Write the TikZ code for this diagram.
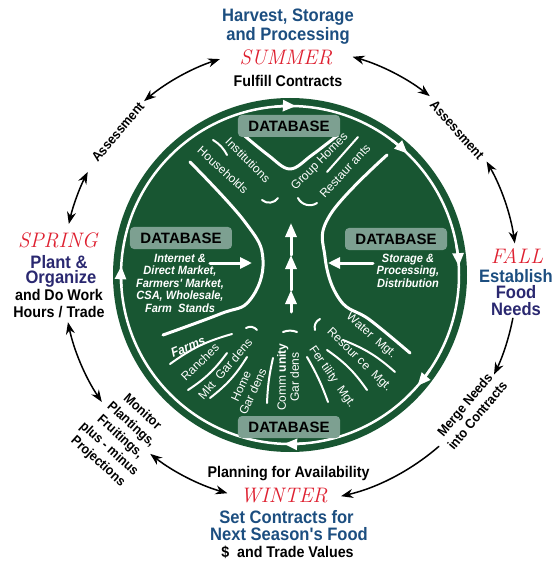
\documentclass[tikz,border=0pt]{standalone}
\usepackage{fontspec}
\newfontfamily\condfont[FakeStretch=0.92]{Liberation Sans}
\newfontfamily\labelfont{Liberation Sans}
\usetikzlibrary{arrows.meta}
\definecolor{wheelgreen}{RGB}{24,86,50}
\definecolor{dbfill}{RGB}{125,160,145}
\definecolor{seasonred}{RGB}{222,32,48}
\definecolor{headblue}{RGB}{28,78,128}
\definecolor{headnavy}{RGB}{42,40,112}
\begin{document}
\begin{tikzpicture}[x=1pt,y=1pt,line cap=round,line join=round,>={Stealth[length=12pt,width=9pt]}]
\tikzset{
  bigline/.style={font=\condfont\bfseries\fontsize{18}{18}\selectfont,inner sep=0pt,anchor=base},
  smallline/.style={font=\condfont\bfseries\fontsize{15.5}{16}\selectfont,inner sep=0pt,anchor=base},
  seasonname/.style={font=\rmfamily\itshape\fontsize{21}{21}\selectfont,text=seasonred,inner sep=0pt,anchor=base},
  arclabel/.style={font=\condfont\bfseries\fontsize{13.5}{16.5}\selectfont,inner sep=0pt,align=center},
  dbbox/.style={fill=dbfill,rounded corners=4pt,minimum width=102pt,minimum height=22pt,inner sep=0pt,font=\labelfont\bfseries\fontsize{15}{15}\selectfont},
  outlettext/.style={text=white,font=\condfont\bfseries\itshape\fontsize{12}{12.5}\selectfont,align=center,inner sep=0pt,anchor=north},
  croplabel/.style={text=white,font=\labelfont\fontsize{12}{13}\selectfont,inner sep=0pt,align=center},
  cyclearc/.style={line width=1.5pt},
  wline/.style={white,line width=3pt},
  fanline/.style={white,line width=2pt},
  ringtip/.style={white,line width=2.5pt,-{Triangle[length=13pt,width=11pt]}}
}
\useasboundingbox (-290,-295) rectangle (267,275);

% wheel
\fill[wheelgreen] (0,0) circle (177);
\draw[white,line width=2.5pt] (0,0) circle (169);
\foreach \a in {88,46,3,-41,-92,177}
  \draw[ringtip] ({\a+7}:169) arc[start angle=\a+7,end angle=\a,radius=169];

% big white curves
\draw[wline] plot[smooth,tension=0.7] coordinates {(-100,113) (-45,53) (-27,15) (-40,-25) (-70,-39) (-127,-60)};
\draw[wline] plot[smooth,tension=0.7] coordinates {(97,120) (40,60) (35,18) (50,-25) (80,-45) (120,-78)};
\draw[wline] plot[smooth,tension=0.6] coordinates {(-50,143) (-22,120) (0,106) (22,120) (48,140)};

% small strokes
\draw[fanline] (-77,135) to[bend left=15] (-63,120);
\draw[fanline] (37,103) -- (68,138);
\draw[fanline] (-28,75) to[bend right=50] (-12,77);
\draw[fanline] (8,77) to[bend right=50] (27,72);
\draw[fanline] (-120,-89) to[bend left=10] (-58,-59);
\draw[fanline] (-102,-115) to[bend right=10] (-63,-78);
\draw[fanline] (-80,-123) to[bend right=10] (-43,-82);
\draw[fanline] (-23,-128) to[bend left=5] (-17,-83);
\draw[fanline] (17,-82) to[bend left=5] (38,-127);
\draw[fanline] (37,-75) to[bend left=10] (77,-115);
\draw[fanline] (53,-65) to[bend left=10] (105,-97);
\draw[fanline] (-7,-57) to[bend left=20] (7,-57);
\draw[fanline] (-44,-53) to[bend left=40] (-33,-55);
\draw[fanline] (30,-44) to[bend right=40] (25,-55);

% white arrows
\draw[wline,-{Triangle[length=12pt,width=11pt]}] (-80,12) -- (-38,12);
\draw[wline,-{Triangle[length=12pt,width=11pt]}] (83,12) -- (38,12);
\draw[wline,-{Triangle[length=14pt,width=11pt]}] (1,-37) -- (1,-15);
\draw[wline,-{Triangle[length=14pt,width=11pt]}] (1,-15) -- (1,20);
\draw[wline,-{Triangle[length=14pt,width=11pt]}] (1,20) -- (1,52);

% databases
\node[dbbox] (dbtop) at (-1,149) {DATABASE};
\node[dbbox] (dbleft) at (-109,37) {DATABASE};
\node[dbbox] (dbright) at (106,36) {DATABASE};
\node[dbbox] (dbbottom) at (-1,-152) {DATABASE};

\node[outlettext] (outlets) at (-110,21.5) {Internet \&\\Direct Market,\\Farmers' Market,\\CSA, Wholesale,\\Farm~ Stands};
\node[outlettext] (storage) at (118,21.5) {Storage \&\\Processing,\\Distribution};

% crop labels
\node[croplabel,rotate=-42] (households) at (-67,105) {Households};
\node[croplabel,rotate=-45] (institutions) at (-42,115) {Institutions};
\node[croplabel,rotate=45] (grouphomes) at (30,113) {Group Homes};
\node[croplabel,rotate=47] (restaurants) at (55,104) {Restaur ants};
\node[croplabel,rotate=22,font=\condfont\bfseries\itshape\fontsize{13}{13}\selectfont] (farms) at (-102,-72) {Farms};
\node[croplabel,rotate=44] (ranches) at (-90,-87) {Ranches};
\node[croplabel,rotate=49] (mktgardens) at (-65,-94) {Mkt~ Gar dens};
\node[croplabel,rotate=65] (homegardens) at (-43,-114) {Home\\Gar dens};
\node[croplabel,rotate=90] (community) at (-2,-102) {Comm \textbf{unity}\\Gar dens};
\node[croplabel,rotate=-55] (fertility) at (42,-102) {Fer tility~ Mgt.};
\node[croplabel,rotate=-44] (resource) at (69,-85) {Resour ce~ Mgt.};
\node[croplabel,rotate=-41] (water) at (81,-61) {Water~ Mgt.};

% seasons
\node[bigline,text=headblue] (harvest) at (-2,253) {Harvest, Storage};
\node[bigline,text=headblue] (processing) at (-2,234) {and Processing};
\node[seasonname] (summer) at (-4,210) {SUMMER};
\node[smallline] (fulfill) at (-2,188) {Fulfill Contracts};

\node[seasonname] (spring) at (-232,28) {SPRING};
\node[bigline,text=headnavy] (plant) at (-231,7) {Plant \&};
\node[bigline,text=headnavy] (organize) at (-229,-8) {Organize};
\node[smallline] (dowork) at (-231,-25) {and Do Work};
\node[smallline] (hours) at (-231,-42) {Hours / Trade};

\node[seasonname] (fall) at (227,12) {FALL};
\node[bigline,text=headblue] (establish) at (226,-7) {Establish};
\node[bigline,text=headnavy] (food) at (226,-23) {Food};
\node[bigline,text=headnavy] (needs) at (226,-40) {Needs};

\node[smallline] (planning) at (-1.5,-202) {Planning for Availability};
\node[seasonname] (winter) at (-6,-227) {WINTER};
\node[bigline,text=headblue] (setcontracts) at (-3.5,-248) {Set Contracts for};
\node[bigline,text=headblue] (nextseason) at (-1,-265) {Next Season's Food};
\node[smallline] (tradevalues) at (-2.5,-282) {\$ ~and Trade Values};

% cycle labels
\node[arclabel,rotate=50] (assessleft) at (-172,143) {Assessment};
\node[arclabel,rotate=-48] (assessright) at (167,145) {Assessment};
\node[arclabel,rotate=50] (merge) at (181,-135) {Merge Needs\\into Contracts};
\node[arclabel,rotate=-42] (monitor) at (-170,-162) {Monitor\\Plantings,\\Fruitings,\\plus - minus\\Projections};

% cycle arcs
\foreach \nm/\a in {sumW/108,asLn/130,asLs/153,sprN/167,sprS/192,monN/214,monS/232,winW/254,
                    winE/283,merS/311,merN/334,falS/349,falN/8,asRs/30,asRn/52,sumE/74}
  \coordinate (\nm) at (\a:227);
\draw[cyclearc,<->] (sumW) arc[start angle=108,end angle=130,radius=227];
\draw[cyclearc,<->] (asLs) arc[start angle=153,end angle=167,radius=227];
\draw[cyclearc,<->] (sprS) arc[start angle=192,end angle=214,radius=227];
\draw[cyclearc,<->] (monS) arc[start angle=232,end angle=254,radius=227];
\draw[cyclearc,->] (merS) arc[start angle=311,end angle=283,radius=227];
\draw[cyclearc,->] (falS) arc[start angle=349,end angle=334,radius=227];
\draw[cyclearc,<->] (asRs) arc[start angle=30,end angle=8,radius=227];
\draw[cyclearc,<->] (sumE) arc[start angle=74,end angle=52,radius=227];
\end{tikzpicture}
\end{document}
